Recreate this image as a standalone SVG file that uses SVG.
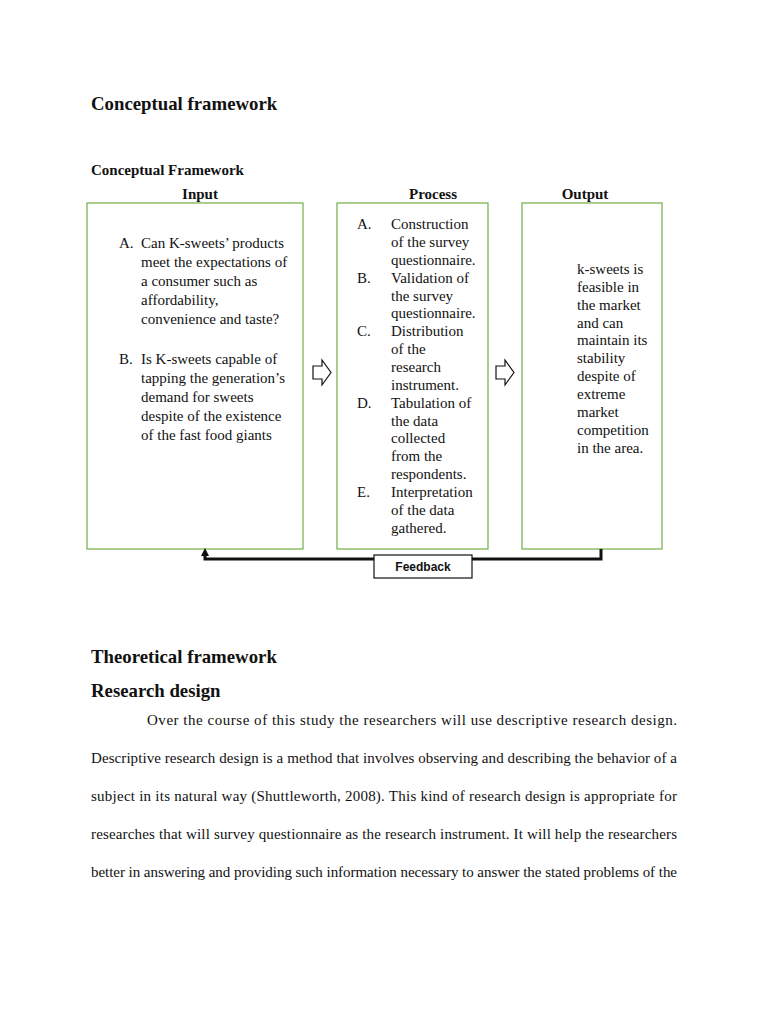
<svg xmlns="http://www.w3.org/2000/svg" width="768" height="1024" viewBox="0 0 768 1024">
<defs>
<style>
text{font-family:"Liberation Serif","Times New Roman",serif;fill:#111;}
.h1{font-size:18.8px;font-weight:bold;}
.h2{font-size:15px;font-weight:bold;}
.t{font-size:15px;}
.p{font-size:15px;}
.box{fill:#fff;stroke:#70ad47;stroke-width:1.2;}
.blk{fill:#fff;stroke:#111;stroke-width:1.2;}
</style>
<path id="barrow" d="M0,6 L9,6 L9,0 L18,12.5 L9,25 L9,19 L0,19 z"/>
</defs>
<rect width="768" height="1024" fill="#fff"/>

<text class="h1" x="91" y="110">Conceptual framework</text>
<text class="h2" x="91" y="175">Conceptual Framework</text>
<text class="h2" x="200" y="199" text-anchor="middle">Input</text>
<text class="h2" x="433" y="199" text-anchor="middle">Process</text>
<text class="h2" x="585" y="199" text-anchor="middle">Output</text>

<g id="input">
<rect class="box" x="87" y="203" width="216" height="346"/>
<text class="t"><tspan x="119" y="248">A.</tspan><tspan x="141" y="248">Can K-sweets’ products</tspan>
<tspan x="141" y="267">meet the expectations of</tspan>
<tspan x="141" y="286">a consumer such as</tspan>
<tspan x="141" y="305">affordability,</tspan>
<tspan x="141" y="324">convenience and taste?</tspan>
<tspan x="119" y="364">B.</tspan><tspan x="141" y="364">Is K-sweets capable of</tspan>
<tspan x="141" y="383">tapping the generation’s</tspan>
<tspan x="141" y="402">demand for sweets</tspan>
<tspan x="141" y="421">despite of the existence</tspan>
<tspan x="141" y="440">of the fast food giants</tspan></text>
</g>

<g id="process">
<rect class="box" x="337" y="203" width="151" height="346"/>
<text class="t"><tspan x="357" y="229">A.</tspan><tspan x="391" y="229">Construction</tspan>
<tspan x="391" y="247">of the survey</tspan>
<tspan x="391" y="265">questionnaire.</tspan>
<tspan x="357" y="283">B.</tspan><tspan x="391" y="283">Validation of</tspan>
<tspan x="391" y="301">the survey</tspan>
<tspan x="391" y="318">questionnaire.</tspan>
<tspan x="357" y="336">C.</tspan><tspan x="391" y="336">Distribution</tspan>
<tspan x="391" y="354">of the</tspan>
<tspan x="391" y="372">research</tspan>
<tspan x="391" y="390">instrument.</tspan>
<tspan x="357" y="408">D.</tspan><tspan x="391" y="408">Tabulation of</tspan>
<tspan x="391" y="426">the data</tspan>
<tspan x="391" y="443">collected</tspan>
<tspan x="391" y="461">from the</tspan>
<tspan x="391" y="479">respondents.</tspan>
<tspan x="357" y="497">E.</tspan><tspan x="391" y="497">Interpretation</tspan>
<tspan x="391" y="515">of the data</tspan>
<tspan x="391" y="533">gathered.</tspan></text>
</g>

<g id="output">
<rect class="box" x="522" y="203" width="140" height="346"/>
<text class="t"><tspan x="577" y="274">k-sweets is</tspan>
<tspan x="577" y="292">feasible in</tspan>
<tspan x="577" y="310">the market</tspan>
<tspan x="577" y="328">and can</tspan>
<tspan x="577" y="345">maintain its</tspan>
<tspan x="577" y="363">stability</tspan>
<tspan x="577" y="381">despite of</tspan>
<tspan x="577" y="399">extreme</tspan>
<tspan x="577" y="417">market</tspan>
<tspan x="577" y="435">competition</tspan>
<tspan x="577" y="453">in the area.</tspan></text>
</g>

<g id="connectors">
<use href="#barrow" x="313" y="360" class="blk"/>
<use href="#barrow" x="496" y="360" class="blk"/>
<polyline points="601,549 601,559 205,559 205,553" fill="none" stroke="#111" stroke-width="3" stroke-linejoin="miter"/>
<path d="M201,556 L205,548 L209,556 z" fill="#111"/>
</g>

<g id="feedback">
<rect x="374" y="555" width="98" height="23" fill="#fff" stroke="#111" stroke-width="1.2"/>
<text x="423" y="571" text-anchor="middle" style="font-family:'Liberation Sans','Open Sans',sans-serif;font-size:12px;font-weight:bold;">Feedback</text>
</g>

<text class="h1" x="91" y="663">Theoretical framework</text>
<text class="h1" x="91" y="697">Research design</text>

<text class="p" x="147" y="725" textLength="530" lengthAdjust="spacing">Over the course of this study the researchers will use descriptive research design.</text>
<text class="p" x="91" y="763" textLength="586" lengthAdjust="spacing">Descriptive research design is a method that involves observing and describing the behavior of a</text>
<text class="p" x="91" y="801" textLength="586" lengthAdjust="spacing">subject in its natural way (Shuttleworth, 2008). This kind of research design is appropriate for</text>
<text class="p" x="91" y="839" textLength="586" lengthAdjust="spacing">researches that will survey questionnaire as the research instrument.  It will help the researchers</text>
<text class="p" x="91" y="877" textLength="586" lengthAdjust="spacing">better in answering and providing such information necessary to answer the stated problems of the</text>
</svg>
